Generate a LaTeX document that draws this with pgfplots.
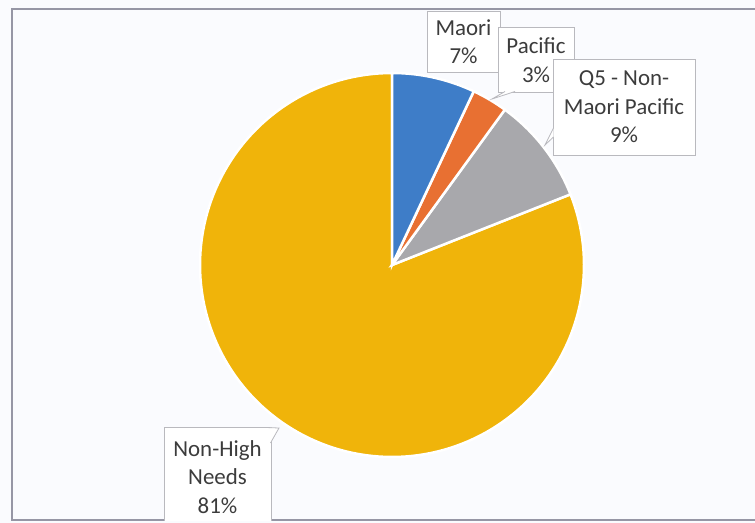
\documentclass[border=0pt]{standalone}
\usepackage{fontspec}
\setmainfont{Carlito}
\usepackage{pgfplots}
\usepackage{pgfplotstable}
\pgfplotsset{compat=1.18}
\definecolor{cblue}{RGB}{62,125,200}
\definecolor{corange}{RGB}{232,112,50}
\definecolor{cgray}{RGB}{168,168,172}
\definecolor{cgold}{RGB}{240,180,10}
\definecolor{bgc}{RGB}{250,251,254}
\definecolor{framec}{RGB}{150,150,165}
\definecolor{boxc}{RGB}{185,185,190}
\definecolor{tc}{RGB}{60,60,60}
\pgfplotstableread{
label value
Maori 7
Pacific 3
Q5 9
NonHigh 81
}\piedata
\begin{document}
\begin{tikzpicture}
\pgfplotstablegetelem{0}{value}\of\piedata \pgfmathsetmacro\vA{\pgfplotsretval}
\pgfplotstablegetelem{1}{value}\of\piedata \pgfmathsetmacro\vB{\pgfplotsretval}
\pgfplotstablegetelem{2}{value}\of\piedata \pgfmathsetmacro\vC{\pgfplotsretval}
\pgfplotstablegetelem{3}{value}\of\piedata \pgfmathsetmacro\vD{\pgfplotsretval}
\pgfmathsetmacro\aO{90}
\pgfmathsetmacro\aA{\aO-3.6*\vA}
\pgfmathsetmacro\aB{\aA-3.6*\vB}
\pgfmathsetmacro\aC{\aB-3.6*\vC}
\pgfmathsetmacro\aD{\aC-3.6*\vD}
\begin{axis}[scale only axis, width=755bp, height=523bp,
  xmin=0, xmax=755, ymin=0, ymax=523, hide axis, clip=false]
\fill[bgc] (axis cs:0,0) rectangle (axis cs:755,523);
\draw[framec, line width=2bp] (axis cs:770,3) -- (axis cs:12,3) -- (axis cs:12,514) -- (axis cs:770,514);
\addplot[fill=cgold, draw=white, line width=2.5bp, domain=\aD:\aC, samples=150] ({392+192*cos(x)},{258+192*sin(x)}) -- (axis cs:392,258) -- cycle;
\addplot[fill=cgray, draw=white, line width=2.5bp, domain=\aC:\aB, samples=40] ({392+192*cos(x)},{258+192*sin(x)}) -- (axis cs:392,258) -- cycle;
\addplot[fill=corange, draw=white, line width=2.5bp, domain=\aB:\aA, samples=20] ({392+192*cos(x)},{258+192*sin(x)}) -- (axis cs:392,258) -- cycle;
\addplot[fill=cblue, draw=white, line width=2.5bp, domain=\aA:\aO, samples=40] ({392+192*cos(x)},{258+192*sin(x)}) -- (axis cs:392,258) -- cycle;
% label boxes
\draw[boxc, fill=white, line width=0.8bp] (axis cs:427,512) rectangle (axis cs:500,451);
\node[text=tc, align=center, font=\fontsize{23}{28.5}\selectfont] at (axis cs:463.5,481) {Maori\\7\%};
\draw[boxc, fill=white, line width=0.8bp] (axis cs:498,496) rectangle (axis cs:574,431);
\draw[boxc, fill=white, line width=0.8bp] (axis cs:505,431.5) -- (axis cs:492,424) -- (axis cs:515,431.5);
\node[text=tc, align=center, font=\fontsize{23}{28.5}\selectfont] at (axis cs:536,463) {Pacific\\3\%};
\draw[boxc, fill=white, line width=0.8bp] (axis cs:553,464) rectangle (axis cs:695,368);
\draw[boxc, fill=white, line width=0.8bp] (axis cs:553.5,395) -- (axis cs:545,378) -- (axis cs:553.5,386);
\node[text=tc, align=center, font=\fontsize{23}{28.5}\selectfont] at (axis cs:624,416) {Q5 - Non-\\Maori Pacific\\9\%};
\draw[boxc, fill=white, line width=0.8bp] (axis cs:164,2) -- (axis cs:164,96) -- (axis cs:271,96) -- (axis cs:271,2);
\draw[boxc, fill=white, line width=0.8bp] (axis cs:270.5,80) -- (axis cs:279,95) -- (axis cs:266,95.5);
\node[text=tc, align=center, font=\fontsize{23}{28.5}\selectfont] at (axis cs:217.5,46) {Non-High\\Needs\\81\%};
\end{axis}
\pgfresetboundingbox
\path[use as bounding box] (current axis.south west) rectangle (current axis.north east);
\end{tikzpicture}
\end{document}
